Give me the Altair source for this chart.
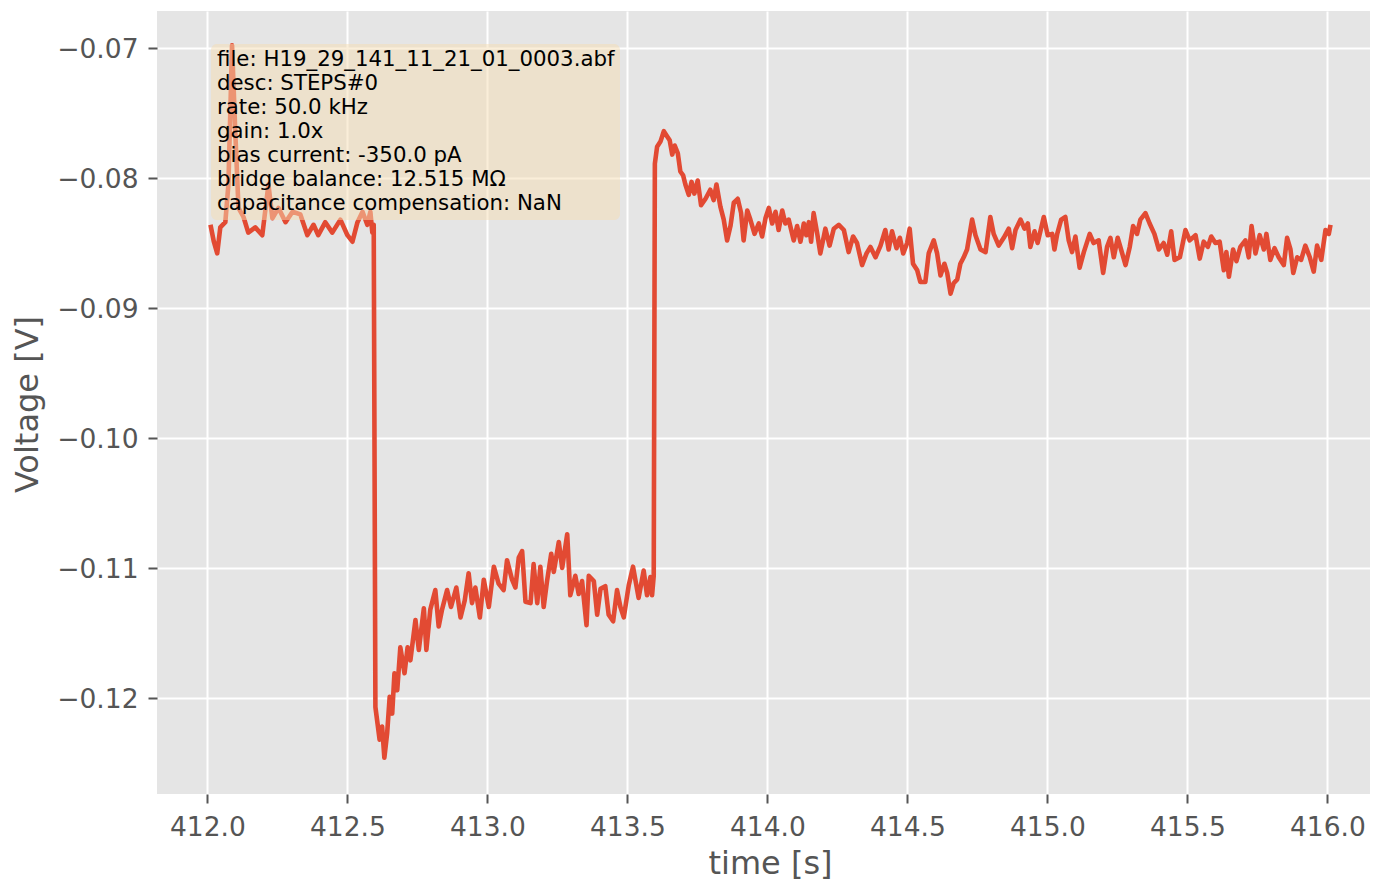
import altair as alt
import pandas as pd

# ---- data (time in s, voltage in V) ----
baseline_seg = [
    (412.011, -0.0836), (412.023, -0.0849), (412.035, -0.0858), (412.046, -0.0838),
    (412.064, -0.0834), (412.075, -0.0805), (412.088, -0.0698), (412.100, -0.0767),
    (412.111, -0.0823), (412.129, -0.0830), (412.146, -0.0842), (412.171, -0.0838),
    (412.196, -0.0844), (412.218, -0.0805), (412.232, -0.0831), (412.254, -0.0823),
    (412.279, -0.0834), (412.304, -0.0826), (412.332, -0.0828), (412.357, -0.0844),
    (412.379, -0.0836), (412.396, -0.0844), (412.421, -0.0834), (412.446, -0.0842),
    (412.475, -0.0832), (412.500, -0.0844), (412.518, -0.0849), (412.536, -0.0834),
    (412.554, -0.0826), (412.571, -0.0836), (412.582, -0.0826), (412.589, -0.0842),
    (412.594, -0.0836),
]

step_seg = [
    (412.600, -0.1207), (412.606, -0.1217), (412.615, -0.1232), (412.624, -0.1222),
    (412.632, -0.1246), (412.642, -0.1227), (412.651, -0.1199), (412.660, -0.1212),
    (412.668, -0.1181), (412.678, -0.1194), (412.689, -0.1161), (412.704, -0.1181),
    (412.715, -0.1161), (412.725, -0.1171), (412.743, -0.1140), (412.755, -0.1163),
    (412.773, -0.1131), (412.782, -0.1163), (412.796, -0.1132), (412.814, -0.1117),
    (412.826, -0.1145), (412.838, -0.1132), (412.856, -0.1117), (412.870, -0.1130),
    (412.889, -0.1115), (412.904, -0.1138), (412.919, -0.1125), (412.933, -0.1104),
    (412.945, -0.1127), (412.957, -0.1115), (412.973, -0.1138), (412.987, -0.1109),
    (413.005, -0.1130), (413.023, -0.1099), (413.040, -0.1112), (413.058, -0.1117),
    (413.070, -0.1094), (413.088, -0.1109), (413.100, -0.1115), (413.112, -0.1092),
    (413.124, -0.1087), (413.136, -0.1126), (413.154, -0.1127), (413.165, -0.1097),
    (413.178, -0.1127), (413.189, -0.1099), (413.201, -0.1130), (413.213, -0.1110),
    (413.228, -0.1089), (413.237, -0.1103), (413.255, -0.1080), (413.267, -0.1100),
    (413.285, -0.1074), (413.296, -0.1121), (413.314, -0.1106), (413.326, -0.1120),
    (413.338, -0.1110), (413.354, -0.1144), (413.362, -0.1106), (413.380, -0.1110),
    (413.392, -0.1136), (413.404, -0.1116), (413.421, -0.1114), (413.433, -0.1136),
    (413.449, -0.1141), (413.463, -0.1117), (413.475, -0.1130), (413.487, -0.1138),
    (413.505, -0.1113), (413.520, -0.1099), (413.540, -0.1123), (413.558, -0.1102),
    (413.570, -0.1121), (413.582, -0.1107), (413.588, -0.1121), (413.594, -0.1106),
]

rebound_seg = [
    (413.598, -0.0789), (413.606, -0.0776), (413.618, -0.0772), (413.630, -0.0764),
    (413.642, -0.0768), (413.651, -0.0771), (413.660, -0.0782), (413.669, -0.0775),
    (413.680, -0.0781), (413.689, -0.0795), (413.699, -0.0798), (413.707, -0.0805),
    (413.719, -0.0813), (413.729, -0.0803), (413.739, -0.0812), (413.751, -0.0802),
    (413.763, -0.0821), (413.779, -0.0816), (413.796, -0.0809), (413.808, -0.0817),
    (413.818, -0.0805), (413.832, -0.0822), (413.844, -0.0832), (413.856, -0.0848),
    (413.868, -0.0837), (413.880, -0.0819), (413.894, -0.0816), (413.906, -0.0827),
    (413.915, -0.0848), (413.928, -0.0825), (413.939, -0.0832), (413.954, -0.0843),
    (413.969, -0.0835), (413.981, -0.0845), (413.993, -0.0831), (414.005, -0.0823),
    (414.017, -0.0835), (414.029, -0.0826), (414.040, -0.0840), (414.053, -0.0825),
    (414.064, -0.0835), (414.076, -0.0832), (414.094, -0.0848), (414.106, -0.0837),
    (414.118, -0.0849), (414.130, -0.0835), (414.139, -0.0844), (414.148, -0.0834),
    (414.156, -0.0849), (414.165, -0.0827), (414.178, -0.0843), (414.189, -0.0858),
    (414.207, -0.0839), (414.222, -0.0852), (414.237, -0.0839), (414.255, -0.0836),
    (414.273, -0.0840), (414.290, -0.0857), (414.306, -0.0845), (414.320, -0.0850),
    (414.338, -0.0867), (414.354, -0.0858), (414.368, -0.0853), (414.386, -0.0861),
    (414.404, -0.0852), (414.421, -0.0840), (414.433, -0.0855), (414.445, -0.0841),
    (414.461, -0.0854), (414.473, -0.0846), (414.485, -0.0858), (414.499, -0.0850),
    (414.508, -0.0839), (414.520, -0.0866), (414.535, -0.0871), (414.546, -0.0880),
    (414.564, -0.0880), (414.576, -0.0858), (414.594, -0.0848), (414.606, -0.0858),
    (414.618, -0.0875), (414.632, -0.0866), (414.642, -0.0873), (414.654, -0.0889),
    (414.665, -0.0881), (414.678, -0.0878), (414.689, -0.0866), (414.701, -0.0861),
    (414.713, -0.0855), (414.731, -0.0832), (414.743, -0.0844), (414.761, -0.0855),
    (414.779, -0.0857), (414.796, -0.0830),
]

late_seg = [
    (414.808, -0.0843), (414.826, -0.0852), (414.844, -0.0846), (414.862, -0.0839),
    (414.874, -0.0854), (414.886, -0.0840), (414.904, -0.0832), (414.918, -0.0839),
    (414.930, -0.0835), (414.939, -0.0853), (414.954, -0.0841), (414.965, -0.0850),
    (414.987, -0.0830), (415.001, -0.0844), (415.017, -0.0843), (415.025, -0.0855),
    (415.035, -0.0843), (415.049, -0.0832), (415.064, -0.0830), (415.076, -0.0848),
    (415.088, -0.0857), (415.100, -0.0845), (415.115, -0.0869), (415.130, -0.0857),
    (415.151, -0.0843), (415.165, -0.0850), (415.183, -0.0848), (415.199, -0.0873),
    (415.213, -0.0853), (415.225, -0.0846), (415.237, -0.0861), (415.251, -0.0846),
    (415.263, -0.0855), (415.279, -0.0867), (415.294, -0.0853), (415.306, -0.0837),
    (415.320, -0.0843), (415.332, -0.0832), (415.350, -0.0827), (415.365, -0.0835),
    (415.382, -0.0843), (415.398, -0.0855), (415.415, -0.0850), (415.428, -0.0859),
    (415.442, -0.0841), (415.454, -0.0863), (415.473, -0.0861), (415.493, -0.0840),
    (415.508, -0.0848), (415.529, -0.0844), (415.544, -0.0862), (415.558, -0.0849),
    (415.573, -0.0853), (415.585, -0.0845), (415.600, -0.0850), (415.615, -0.0849),
    (415.630, -0.0871), (415.639, -0.0857), (415.648, -0.0876), (415.663, -0.0855),
    (415.675, -0.0864), (415.689, -0.0853), (415.707, -0.0848), (415.719, -0.0861),
    (415.729, -0.0837), (415.743, -0.0858), (415.758, -0.0844), (415.773, -0.0855),
    (415.782, -0.0843), (415.796, -0.0863), (415.811, -0.0854), (415.826, -0.0861),
    (415.844, -0.0867), (415.856, -0.0846), (415.868, -0.0855), (415.878, -0.0873),
    (415.892, -0.0861), (415.906, -0.0863), (415.921, -0.0852), (415.937, -0.0861),
    (415.951, -0.0872), (415.963, -0.0852), (415.978, -0.0863), (415.993, -0.0840),
    (416.005, -0.0843), (416.011, -0.0836),
]

x_ticks = [412.0, 412.5, 413.0, 413.5, 414.0, 414.5, 415.0, 415.5, 416.0]
y_ticks = [-0.07, -0.08, -0.09, -0.10, -0.11, -0.12]

info_lines = [
    "file: H19_29_141_11_21_01_0003.abf",
    "desc: STEPS#0",
    "rate: 50.0 kHz",
    "gain: 1.0x",
    "bias current: -350.0 pA",
    "bridge balance: 12.515 MΩ",
    "capacitance compensation: NaN",
]

rows = baseline_seg + step_seg + rebound_seg + late_seg
df = pd.DataFrame(rows, columns=["time", "voltage"])

FONT = "DejaVu Sans"
GREY = "#555555"

x_scale = alt.Scale(domain=[411.82, 416.152], nice=False, zero=False)
y_scale = alt.Scale(domain=[-0.127385, -0.067154], nice=False, zero=False)

line = alt.Chart(df).mark_line(color="#E24A33", strokeWidth=4.6, clip=True,
                               strokeJoin="round").encode(
    x=alt.X("time:Q", scale=x_scale,
            axis=alt.Axis(title="time [s]", values=x_ticks, format=".1f",
                          labelPadding=11, titleX=613, titleY=79,
                          titleBaseline="alphabetic")),
    y=alt.Y("voltage:Q", scale=y_scale,
            axis=alt.Axis(title="Voltage [V]", values=y_ticks, format=".2f",
                          labelPadding=10, labelOffset=1.5,
                          titleX=-120, titleY=393,
                          titleBaseline="alphabetic")),
)

one = pd.DataFrame({"k": [0]})

box = alt.Chart(one).mark_rect(color="#F5DEB3", opacity=0.5, cornerRadius=6).encode(
    x=alt.value(54), x2=alt.value(463), y=alt.value(33), y2=alt.value(209)
)

text = alt.Chart(one).mark_text(
    text=info_lines, align="left", baseline="alphabetic", font=FONT,
    fontSize=21.3, lineHeight=24, color="black"
).encode(x=alt.value(60), y=alt.value(55))

chart = (line + box + text).properties(
    width=1213, height=783,
    autosize=alt.AutoSizeParams(type="none"),
    padding={"left": 149, "top": 3, "right": 0, "bottom": 88},
).configure_view(
    fill="#E5E5E5", stroke=None
).configure_axis(
    domain=False, grid=True, gridColor="white", gridWidth=2,
    tickColor=GREY, tickSize=9, tickWidth=2,
    labelColor=GREY, labelFont=FONT, labelFontSize=26.5,
    titleColor=GREY, titleFont=FONT, titleFontSize=32, titleFontWeight="normal",
)

chart.save("out.html", embed_options={"renderer": "svg", "actions": False})
